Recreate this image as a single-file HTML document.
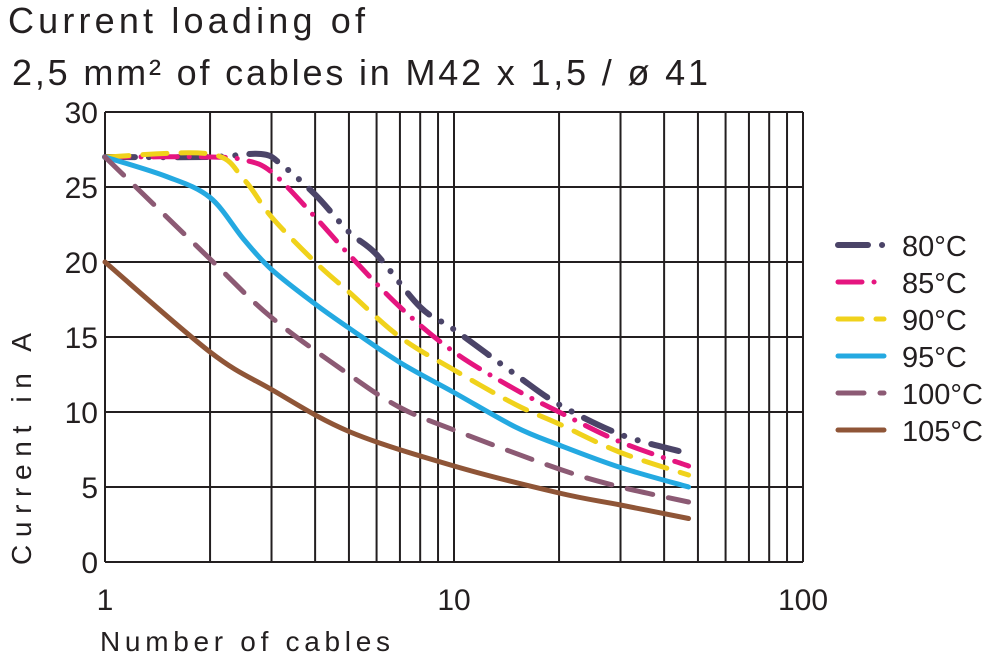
<!DOCTYPE html>
<html><head><meta charset="utf-8"><style>
body{margin:0;background:#fff;width:1000px;height:660px;overflow:hidden;font-family:"Liberation Sans",sans-serif}
text{font-family:"Liberation Sans",sans-serif;fill:#231f20}
</style></head><body>
<svg id="chart" width="1000" height="660" viewBox="0 0 1000 660">
<text x="8" y="33" font-size="36" textLength="357" lengthAdjust="spacing">Current loading of</text>
<text x="12" y="85" font-size="36" textLength="696" lengthAdjust="spacing">2,5 mm² of cables in M42 x 1,5 / ø 41</text>
<g id="grid"></g>
<g id="axes"></g>
<g id="series"></g>
<g id="legend"></g>
<text transform="translate(31,565) rotate(-90)" font-size="28" textLength="232" lengthAdjust="spacing">Current in A</text>
<text x="100" y="651" font-size="28" textLength="290" lengthAdjust="spacing">Number of cables</text>
</svg>
<script>
const xTicks=[1,10,100];
const yTicks=[0,5,10,15,20,25,30];
const xGrid=[1,2,3,4,5,6,7,8,9,10,20,30,40,50,60,70,80,90,100];
const seriesNames=["80°C","85°C","90°C","95°C","100°C","105°C"];
const n80=[1,2,2.8,3.2,4,5,6,8,10,15,20,30,44];
const v80=[27,27,27.2,26.5,24.5,22,20.5,17,15.5,12.5,10.5,8.5,7.4];
const n85=[1,2,2.5,3,4,5,7,10,15,20,30,47];
const v85=[27,27,26.8,26,23,20.5,17,14,11.5,10,8,6.4];
const n90=[1,2,2.5,3,4,5,7,10,15,20,30,47];
const v90=[27,27.2,25.5,23,20,18,15,12.8,10.5,9.2,7.3,5.8];
const n95=[1,1.5,2,2.5,3,4,5,7,10,15,20,30,47];
const v95=[27,25.7,24.3,21.5,19.5,17.2,15.6,13.3,11.3,9,7.8,6.3,5];
const n100=[1,2,3,5,7,10,20,30,47];
const v100=[27,20.2,16.3,12.5,10.3,8.8,6.2,5,4];
const n105=[1,2,3,5,10,20,30,47];
const v105=[20,14,11.5,8.7,6.4,4.6,3.8,2.9];
const NS="http://www.w3.org/2000/svg";
const X0=105,DEC=349,Y0=562,YS=15;
function xs(n){return X0+DEC*Math.log10(n);}
function ys(v){return Y0-YS*v;}
function mk(tag,attrs,parent){const e=document.createElementNS(NS,tag);for(const k in attrs)e.setAttribute(k,attrs[k]);parent.appendChild(e);return e;}
const grid=document.getElementById('grid'),axes=document.getElementById('axes'),ser=document.getElementById('series'),leg=document.getElementById('legend');
xGrid.forEach(n=>{const l=mk('line',{x1:xs(n),x2:xs(n),y1:ys(30),y2:ys(0),stroke:'#231f20','stroke-width':2},grid);

});
yTicks.forEach(v=>{const l=mk('line',{x1:xs(1),x2:xs(100),y1:ys(v),y2:ys(v),stroke:'#231f20','stroke-width':2},grid);


const t=mk('text',{x:xs(1)-7,y:ys(v)+11,'text-anchor':'end','font-size':30},axes);t.textContent=v;

});
xTicks.forEach(n=>{const t=mk('text',{x:xs(n),y:610,'text-anchor':'middle','font-size':30},axes);t.textContent=n;

});
function pathFor(ns,vs){const p=ns.map((n,i)=>[xs(n),ys(vs[i])]);let d='M'+p[0][0]+','+p[0][1];
for(let i=0;i<p.length-1;i++){const p0=p[Math.max(0,i-1)],p1=p[i],p2=p[i+1],p3=p[Math.min(p.length-1,i+2)];
const c1=[p1[0]+(p2[0]-p0[0])/6,p1[1]+(p2[1]-p0[1])/6],c2=[p2[0]-(p3[0]-p1[0])/6,p2[1]-(p3[1]-p1[1])/6];
d+=' C'+c1.join(',')+' '+c2.join(',')+' '+p2.join(',');}return d;}
const S=[[n80,v80,'#4b4468','30 14 0.1 14 0.1 14',6],[n85,v85,'#e5157f','24 12 0.1 12',5],[n90,v90,'#f0d21b','24 14',5],[n95,v95,'#24a9e1','',5],[n100,v100,'#8c5a74','26 16',5],[n105,v105,'#8f5537','',5]];
S.forEach((s,i)=>{const a={d:pathFor(s[0],s[1]),fill:'none',stroke:s[2],'stroke-width':s[4],'stroke-linecap':'round'};if(s[3])a['stroke-dasharray']=s[3];
const p=mk('path',a,ser);


const y=245+37*i;
const la={x1:838,x2:884,y1:y,y2:y,stroke:s[2],'stroke-width':s[4],'stroke-linecap':'round'};if(s[3])la['stroke-dasharray']=s[3];
const l=mk('line',la,leg);


const t=mk('text',{x:902,y:y+11,'font-size':29},leg);t.textContent=seriesNames[i];

});
</script>
</body></html>
